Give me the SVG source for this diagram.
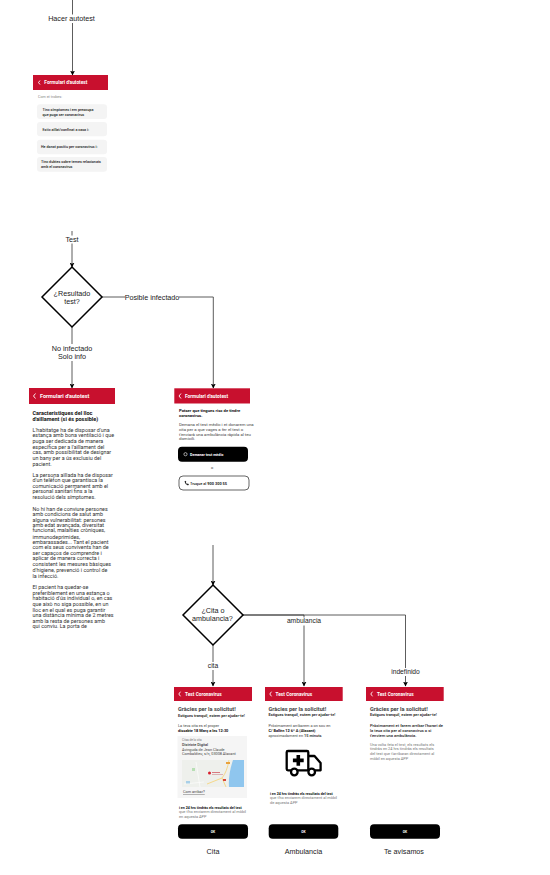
<svg xmlns="http://www.w3.org/2000/svg" width="550" height="875" viewBox="0 0 550 875">
<style>
.l{font-family:"Liberation Sans",Arial,sans-serif;fill:#1a1a1a;text-anchor:middle;font-size:7.200px}
.m{font-size:6.700px}
.t{font-family:Roboto,"Noto Sans",sans-serif;fill:#222}
.h{font-weight:700;font-size:4.800px;fill:#fff}
.hd{fill:#c8102e}
.ch{fill:none;stroke:#fff;stroke-width:.9}
.c{fill:none;stroke:#333;stroke-width:.8}
.bg{fill:#fff}
.d{fill:#fff;stroke:#000;stroke-width:1.500}
.o{fill:#f4f4f4}
.k{font-size:3.700px;font-weight:500;fill:#222}
.p{font-size:5.400px;fill:#333}
.q{font-size:5.500px;font-weight:700;fill:#111}
.ti{font-size:5.600px;font-weight:700;fill:#444}
.su{font-size:3.900px;font-weight:700;fill:#333}
.sm{font-size:3.900px;fill:#444}
.sb{font-size:3.900px;font-weight:700;fill:#111}
.gr{font-size:3.900px;fill:#777}
.btn{fill:#000}
.w{font-size:3.300px;font-weight:700;fill:#fff;text-anchor:middle}
</style>
<defs><marker id="a" markerWidth="5" markerHeight="5" refX="4.500" refY="2.500" orient="auto" markerUnits="userSpaceOnUse"><path d="M0 0L5 2.500L0 5L1.200 2.500Z" fill="#000"/></marker></defs>

<g id="connectors">
<path class="c" marker-end="url(#a)" d="M72.500 0V75"/>
<path class="c" marker-end="url(#a)" d="M72 231V267"/>
<path class="c" marker-end="url(#a)" d="M72 327V388"/>
<path class="c" marker-end="url(#a)" d="M102 297H213.300V388"/>
<path class="c" marker-end="url(#a)" d="M213 545V585"/>
<path class="c" marker-end="url(#a)" d="M213 645V686"/>
<path class="c" marker-end="url(#a)" d="M243 615H304V686"/>
<path class="c" marker-end="url(#a)" d="M243 615H405.500V686"/>
<rect class="bg" x="47" y="14.500" width="50" height="8.500"/><text class="l" x="71.500" y="21.200">Hacer autotest</text>
<rect class="bg" x="64" y="235.500" width="17" height="8"/><text class="l" x="72" y="241.800">Test</text>
<rect class="bg" x="125" y="293" width="54" height="8"/><text class="l" x="152" y="299.500">Posible infectado</text>
<rect class="bg" x="50" y="344" width="44" height="17"/><text class="l" x="72" y="350.500">No infectado</text><text class="l" x="72" y="359.200">Solo info</text>
<rect class="bg" x="207" y="662" width="12" height="8"/><text class="l m" x="213" y="668.300">cita</text>
<rect class="bg" x="286" y="617.500" width="36" height="8"/><text class="l m" x="304" y="623.400">ambulancia</text>
<rect class="bg" x="390" y="668" width="31" height="8"/><text class="l m" x="405.500" y="674.400">indefinido</text>
</g>

<g id="screen-menu" class="t">
<rect class="hd" x="33" y="75" width="75" height="15"/><path class="ch" d="M40 80.500L38.500 82.500L40 84.500"/><text class="t h" x="44.300" y="84">Formulari d'autotest</text>
<text class="t" x="38" y="98.300" style="font-size:3.700px;fill:#888">Com et trobes:</text>
<rect class="o" x="37" y="104.300" width="70" height="14.700" rx="3"/>
<text class="t k" x="42.500" y="110.600">Tinc símptomes i em preocupa</text><text class="t k" x="42.500" y="115.600">que puga ser coronavirus</text>
<rect class="o" x="37" y="122" width="70" height="14.300" rx="3"/>
<text class="t k" x="42.500" y="130.600">Estic aïllat/confinat a casa i:</text>
<rect class="o" x="37" y="139.700" width="70" height="14.600" rx="3"/>
<text class="t k" x="41" y="148.300">He donat positiu per coronavirus i:</text>
<rect class="o" x="37" y="157" width="70" height="14.700" rx="3"/>
<text class="t k" x="41" y="163">Tinc dubtes sobre temes relacionats</text><text class="t k" x="41" y="168">amb el coronavirus</text>
</g>

<g id="decision-test"><path class="d" d="M72 267L102 297L72 327L42 297Z"/><text class="l" x="72" y="296">¿Resultado</text><text class="l" x="72" y="303.700">test?</text></g>

<g id="screen-info">
<rect class="hd" x="29" y="388" width="86" height="16"/><path class="ch" d="M35.500 393.500L33.500 396L35.500 398.500"/><text class="t h" x="40" y="397.800" style="font-size:5.500px">Formulari d'autotest</text>
<text class="t q" x="32.500" y="415">Característiques del lloc</text><text class="t q" x="32.500" y="420.700">d'aïllament (si és possible)</text>
<text class="t p" x="32.500" y="431.500">L'habitatge ha de disposar d'una</text>
<text class="t p" x="32.500" y="437.200">estança amb bona ventilació i que</text>
<text class="t p" x="32.500" y="442.900">puga ser dedicada de manera</text>
<text class="t p" x="32.500" y="448.600">específica per a l'aïllament del</text>
<text class="t p" x="32.500" y="454.200">cas, amb possibilitat de designar</text>
<text class="t p" x="32.500" y="459.800">un bany per a ús exclusiu del</text>
<text class="t p" x="32.500" y="465.500">pacient.</text>
<text class="t p" x="32.500" y="476.500">La persona aïllada ha de disposar</text>
<text class="t p" x="32.500" y="482.200">d'un telèfon que garantisca la</text>
<text class="t p" x="32.500" y="487.700">comunicació permanent amb el</text>
<text class="t p" x="32.500" y="493.300">personal sanitari fins a la</text>
<text class="t p" x="32.500" y="499.200">resolució dels símptomes.</text>
<text class="t p" x="32.500" y="510.800">No hi han de conviure persones</text>
<text class="t p" x="32.500" y="516.300">amb condicions de salut amb</text>
<text class="t p" x="32.500" y="521.700">alguna vulnerabilitat: persones</text>
<text class="t p" x="32.500" y="527">amb edat avançada, diversitat</text>
<text class="t p" x="32.500" y="532.300">funcional, malalties cròniques,</text>
<text class="t p" x="32.500" y="538.500">immunodeprimides,</text>
<text class="t p" x="32.500" y="543.800">embarassades... Tant el pacient</text>
<text class="t p" x="32.500" y="549.300">com els seus convivents han de</text>
<text class="t p" x="32.500" y="554.800">ser capaços de comprendre i</text>
<text class="t p" x="32.500" y="560.300">aplicar de manera correcta i</text>
<text class="t p" x="32.500" y="566.200">consistent les mesures bàsiques</text>
<text class="t p" x="32.500" y="571.800">d'higiene, prevenció i control de</text>
<text class="t p" x="32.500" y="577.500">la infecció.</text>
<text class="t p" x="32.500" y="588.800">El pacient ha quedar-se</text>
<text class="t p" x="32.500" y="594.800">preferiblement en una estança o</text>
<text class="t p" x="32.500" y="600.300">habitació d'ús individual o, en cas</text>
<text class="t p" x="32.500" y="605.800">que això no siga possible, en un</text>
<text class="t p" x="32.500" y="611.500">lloc en el qual es puga garantir</text>
<text class="t p" x="32.500" y="617.200">una distància mínima de 2 metres</text>
<text class="t p" x="32.500" y="622.800">amb la resta de persones amb</text>
<text class="t p" x="32.500" y="628.200">qui conviu. La porta de</text>
</g>

<g id="screen-request">
<rect class="hd" x="174.300" y="388.300" width="75.700" height="15.200"/><path class="ch" d="M181 393.500L179 396L181 398.500"/><text class="t h" x="185" y="397.700">Formulari d'autotest</text>
<text class="t sb" x="179" y="411.500" style="font-size:4.200px">Potser que tingues risc de tindre</text><text class="t sb" x="179" y="416.500" style="font-size:4.200px">coronavirus.</text>
<text class="t sm" x="179" y="426.400" style="font-size:4.300px">Demana el test mèdic i et donarem una</text>
<text class="t sm" x="179" y="431.100" style="font-size:4.300px">cita per a que vages a fer el test o</text>
<text class="t sm" x="179" y="435.700" style="font-size:4.300px">t'enviarà una ambulància ràpida al teu</text>
<text class="t sm" x="179" y="440.400" style="font-size:4.300px">domicili.</text>
<rect class="btn" x="178" y="446.700" width="70" height="15" rx="4"/>
<circle cx="185.500" cy="454.200" r="1.600" fill="none" stroke="#fff" stroke-width=".6"/>
<text class="t" x="190" y="455.500" style="font-size:3.700px;font-weight:700;fill:#fff">Demanar test mèdic</text>
<text class="t sm" x="212" y="469" text-anchor="middle">o</text>
<rect x="179" y="476" width="70" height="14" rx="4" fill="#fff" stroke="#222" stroke-width=".7"/>
<path d="M184.500 481.500Q185 484.500 188 485.500L189 484.300L187.700 483.400L187 483.900Q186.200 483.300 185.900 482.400L186.300 481.700L185.500 480.700Z" fill="#222"/>
<text class="t" x="190" y="484.500" style="font-size:3.900px;font-weight:500;fill:#222">Truque al <tspan font-weight="700">900 300 55</tspan></text>
</g>

<g id="decision-cita"><path class="d" d="M213 585L243 615L213 645L183 615Z"/><text class="l" x="213" y="612.800">¿Cita o</text><text class="l" x="212.500" y="621">ambulancia?</text></g>

<g id="screen-cita">
<rect class="hd" x="174" y="687" width="78" height="14"/><path class="ch" d="M180.500 691.700L178.800 694L180.500 696.300"/><text class="t h" x="185" y="695.700">Test Coronavirus</text>
<text class="t ti" x="178" y="711.300">Gràcies per la solicitut!</text>
<text class="t su" x="178" y="716.700">Estigues tranquil, estem per ajudar-te!</text>
<text class="t sm" x="178" y="727.400">La teva cita es el proper</text>
<text class="t sb" x="178" y="732.100">dissabte 18 Març a les 12:30</text>
<rect x="177.500" y="736" width="69.500" height="62" fill="#f5f5f5"/>
<text class="t" x="182" y="741.200" style="font-size:3px;fill:#777">Citas de la cita</text>
<text class="t" x="182" y="746.200" style="font-size:3.800px;font-weight:500;fill:#333">Districte Digital</text>
<text class="t" x="182" y="750.700" style="font-size:3.800px;fill:#444">Avinguda de Jean Claude</text>
<text class="t" x="182" y="755.200" style="font-size:3.800px;fill:#444">Combaldieu, s/n, 03008 Alacant</text>
<rect x="182" y="760" width="62" height="27" fill="#eef0ec"/>
<path d="M233 760H244V787H229Q228 775 233 760Z" fill="#8fc6ee"/>
<path d="M229 760Q227 772 222 778L207 784M222 778L226 787" fill="none" stroke="#f6d88a" stroke-width="1"/>
<path d="M184 784L204 782M196 762L200 787" fill="none" stroke="#fff" stroke-width=".6"/>
<rect x="226" y="762" width="4" height="2" fill="#e9a23b"/>
<rect x="223" y="779" width="3" height="2" fill="#d8473a"/>
<rect x="192" y="768" width="3" height="3" fill="#b7dfb4"/>
<rect x="186" y="781" width="4" height="2.500" fill="#a8cfe8"/>
<circle cx="209.500" cy="773" r="1.500" fill="#d81e2c"/>
<rect x="212" y="772" width="8" height="1" fill="#d87a80"/><rect x="212" y="774" width="11" height=".8" fill="#d8a0a4"/>
<text class="t" x="183" y="793" style="font-size:3.800px;fill:#444" text-decoration="underline">Com arribar?</text>
<text class="t" x="179" y="808.700" style="font-size:3.600px;font-weight:700;fill:#111">i en 24 hrs tindràs els resultats del test</text>
<text class="t gr" x="179" y="813.400">que t'ho enviarem directament al mòbil</text>
<text class="t gr" x="179" y="818.200">en aquesta APP</text>
<rect class="btn" x="178" y="824.300" width="70" height="14.400" rx="4"/><text class="t w" x="213" y="832.700">OK</text>
<text class="l" x="213" y="853.500">Cita</text>
</g>

<g id="screen-ambulancia">
<rect class="hd" x="265" y="687" width="77.700" height="14"/><path class="ch" d="M271.500 691.700L269.800 694L271.500 696.300"/><text class="t h" x="275.500" y="695.700">Test Coronavirus</text>
<text class="t ti" x="268.500" y="711">Gràcies per la solicitut!</text>
<text class="t su" x="268.500" y="716.300">Estigues tranquil, estem per ajudar-te!</text>
<text class="t sm" x="268.500" y="727.100">Pròximament arribarem a on sou en</text>
<text class="t sb" x="268.500" y="731.800">C/ Ballèn 12 6º A (Alacant)</text>
<text class="t sm" x="268.500" y="736.500">aproximadament en <tspan font-weight="700">15 minuts</tspan></text>
<path d="M308.300 770.300H288Q286.700 770.300 286.700 769V752.300Q286.700 751 288 751H307Q308.300 751 308.300 752.300V770.300M308.300 756H314.500L320.600 763V770.300H308.300" fill="none" stroke="#000" stroke-width="2.300" stroke-linejoin="round"/>
<path d="M296.500 755H300.100V758.600H303.700V762.200H300.100V765.800H296.500V762.200H292.900V758.600H296.500Z" fill="#000"/>
<circle cx="294.300" cy="772" r="3.300" fill="#fff" stroke="#000" stroke-width="2.300"/>
<circle cx="311.700" cy="772" r="3.300" fill="#fff" stroke="#000" stroke-width="2.300"/>
<text class="t" x="270" y="794.700" style="font-size:3.600px;font-weight:700;fill:#111">i en 24 hrs tindràs els resultats del test</text>
<text class="t gr" x="270" y="799.400">que t'ho enviarem directament al mòbil</text>
<text class="t gr" x="270" y="804.200">de aquesta APP</text>
<rect class="btn" x="268.700" y="824.300" width="69.600" height="14.400" rx="4"/><text class="t w" x="303.500" y="832.700">OK</text>
<text class="l" x="303.500" y="853.500">Ambulancia</text>
</g>

<g id="screen-avisamos">
<rect class="hd" x="366" y="687" width="77.700" height="14"/><path class="ch" d="M372.500 691.700L370.800 694L372.500 696.300"/><text class="t h" x="377" y="695.700">Test Coronavirus</text>
<text class="t ti" x="370" y="711">Gràcies per la solicitut!</text>
<text class="t su" x="370" y="716.300">Estigues tranquil, estem per ajudar-te!</text>
<text class="t" x="370" y="727.100" style="font-size:4.100px;font-weight:500;fill:#222">Pròximament et farem arribar l'horari de</text>
<text class="t" x="370" y="732.100" style="font-size:4.100px;font-weight:500;fill:#222">la teua cita per al coronavirus o si</text>
<text class="t" x="370" y="737.100" style="font-size:4.100px;font-weight:500;fill:#222">t'enviem una ambulància.</text>
<text class="t gr" x="370" y="745.700">Una volta feta el test, els resultats els</text>
<text class="t gr" x="370" y="750.400">tindràs en 24 hrs tindràs els resultats</text>
<text class="t gr" x="370" y="755.400">del test que t'arribaran directament al</text>
<text class="t gr" x="370" y="760.100">mòbil en aquesta APP</text>
<rect class="btn" x="370" y="824.300" width="70" height="14.400" rx="4"/><text class="t w" x="405" y="832.700">OK</text>
<text class="l" x="404" y="853.500">Te avisamos</text>
</g>
</svg>
